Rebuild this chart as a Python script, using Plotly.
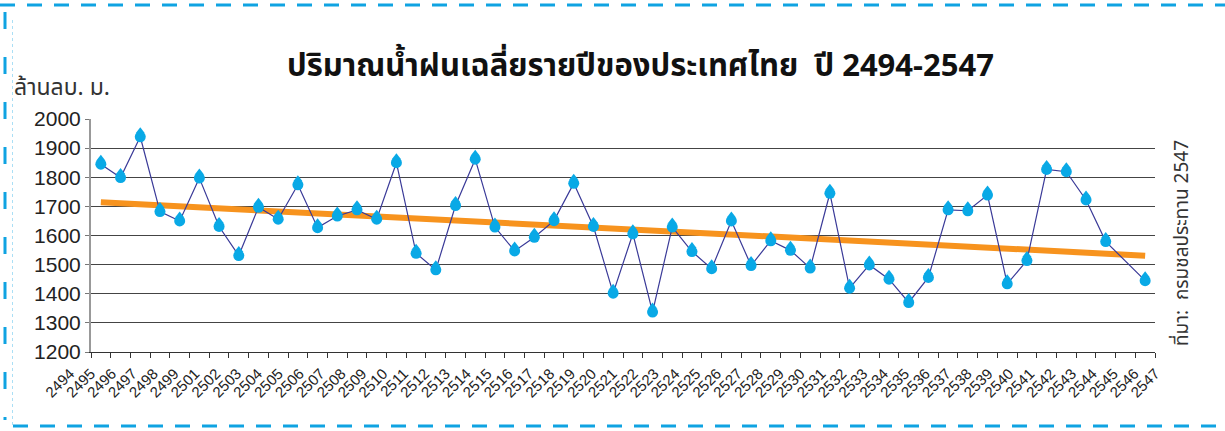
import numpy as np
import plotly.graph_objects as go

# ---------------- data ----------------
years = [str(y) for y in range(2494, 2548)]          # 54 yearly categories
rain = [1845, 1799, 1939, 1682, 1650, 1797, 1631, 1531, 1697, 1656,
        1774, 1627, 1667, 1688, 1656, 1850, 1539, 1482, 1703, 1862,
        1629, 1547, 1594, 1651, 1779, 1631, 1402, 1606, 1337, 1629,
        1545, 1486, 1650, 1497, 1582, 1549, 1488, 1745, 1419, 1499,
        1450, 1370, 1456, 1688, 1685, 1739, 1434, 1514, 1827, 1819,
        1722, 1579, None, 1445]
tick_labels = ['2494', '2495', '2496', '2497', '2498', '2499'] + \
              [str(y) for y in range(2501, 2548)]
title_text = "ปริมาณน้ำฝนเฉลี่ยรายปีของประเทศไทย  ปี 2494-2547"
unit_text = "ล้านลบ. ม."
source_text = "ที่มา:  กรมชลประทาน 2547"

# linear trend (like a spreadsheet trendline) from the data
idx = [i for i, v in enumerate(rain) if v is not None]
vals = [rain[i] for i in idx]
slope, icpt = np.polyfit(idx, vals, 1)
trend_x = [years[0], years[-1]]
trend_y = [icpt, icpt + slope * (len(years) - 1)]

# ---------------- layout geometry ----------------
W, H = 1225, 431
L, R, T, B = 30, 30, 119, 79
AW = W - L - R
AH = H - T - B


def px(x):
    return (x - L) / AW


def py(y):
    return (H - B - y) / AH


lab_p0, lab_step = 70.0, 20.87
r0 = -(lab_p0 - L) / lab_step
r1 = r0 + AW / lab_step

THAI = "Noto Sans Thai, Noto Sans, DejaVu Sans, sans-serif"
NUM = "Liberation Sans, Arial, sans-serif"
DROP = "#09A9E6"
BORDER = "#0FA3E2"

fig = go.Figure()
fig.add_trace(go.Scatter(
    x=trend_x, y=trend_y, mode="lines",
    line=dict(color="#F7931E", width=6), hoverinfo="skip", showlegend=False))
fig.add_trace(go.Scatter(
    x=years, y=rain, mode="lines+markers", connectgaps=True,
    line=dict(color="#3A3A98", width=1.2),
    marker=dict(symbol="circle", size=11, color=DROP, line=dict(width=0)),
    showlegend=False))
fig.add_trace(go.Scatter(
    x=years, y=rain, mode="markers",
    marker=dict(symbol="triangle-down", size=8, angle=180, standoff=5.5,
                color=DROP, line=dict(width=0)),
    hoverinfo="skip", showlegend=False))
# carrier for the separately spaced year labels (draws nothing)
fig.add_trace(go.Scatter(
    x=tick_labels, y=[None] * len(tick_labels), mode="markers",
    xaxis="x2", yaxis="y2", marker=dict(opacity=0),
    hoverinfo="skip", showlegend=False))

fig.update_layout(
    width=W, height=H,
    margin=dict(l=L, r=R, t=T, b=B, pad=0),
    paper_bgcolor="white", plot_bgcolor="rgba(0,0,0,0)",
    xaxis=dict(type="category", categoryorder="array", categoryarray=years,
               domain=[px(91), px(1155)], anchor="y",
               range=[-0.5, len(years) - 0.5], showticklabels=False,
               ticks="outside", tickson="boundaries", ticklen=5,
               tickcolor="#333", showline=True, linecolor="#333",
               linewidth=1, showgrid=False, zeroline=False),
    yaxis=dict(range=[1200, 2000], dtick=100, tick0=1200, anchor="x",
               showgrid=True, gridcolor="#444", gridwidth=1,
               showline=True, linecolor="#999", linewidth=2,
               ticks="outside", ticklen=4, tickcolor="#777",
               tickfont=dict(family=NUM, size=21, color="#222"),
               zeroline=False),
    xaxis2=dict(type="category", categoryorder="array",
                categoryarray=tick_labels, visible=True,
                domain=[0, 1], anchor="y2", range=[r0, r1],
                tickmode="linear", tick0=0, dtick=1, tickangle=-45,
                tickfont=dict(family=NUM, size=15, color="#222"),
                showline=False, ticks="", showgrid=False, zeroline=False,
                ticklabelstandoff=9),
    yaxis2=dict(domain=[0, 1], anchor="x2", range=[0, 1], visible=True,
                showline=False, ticks="", showgrid=False, zeroline=False,
                showticklabels=False),
)

fig.add_annotation(x=px(640), y=py(66), xref="paper", yref="paper",
                   text="<b>" + title_text + "</b>", showarrow=False,
                   xanchor="center", yanchor="middle",
                   font=dict(family=THAI, size=31, color="#111"))
fig.add_annotation(x=px(12), y=py(88), xref="paper", yref="paper",
                   text=unit_text, showarrow=False,
                   xanchor="left", yanchor="middle",
                   font=dict(family=THAI, size=23, color="#333"))
fig.add_annotation(x=px(1182), y=py(243), xref="paper", yref="paper",
                   text=source_text, showarrow=False, textangle=-90,
                   xanchor="center", yanchor="middle",
                   font=dict(family=THAI, size=19, color="#333"))

# dashed frame
fig.add_shape(type="line", xref="paper", yref="paper",
              x0=px(0), x1=px(W), y0=py(5), y1=py(5),
              line=dict(color=BORDER, width=3, dash="15px,12px"))
fig.add_shape(type="line", xref="paper", yref="paper",
              x0=px(5), x1=px(5), y0=py(12), y1=py(420),
              line=dict(color=BORDER, width=3, dash="17px,28px"))
fig.add_shape(type="line", xref="paper", yref="paper",
              x0=px(13), x1=px(W), y0=py(426), y1=py(426),
              line=dict(color=BORDER, width=3, dash="15px,12px"))
fig.add_shape(type="line", xref="paper", yref="paper",
              x0=px(12.5), x1=px(12.5), y0=py(20), y1=py(426),
              line=dict(color="rgba(15,163,226,0.35)", width=1, dash="dot"))

fig.write_html("out.html",
               config={"displayModeBar": False},
               post_script="document.body.style.margin='0';"
                           "document.body.style.overflow='hidden';")
